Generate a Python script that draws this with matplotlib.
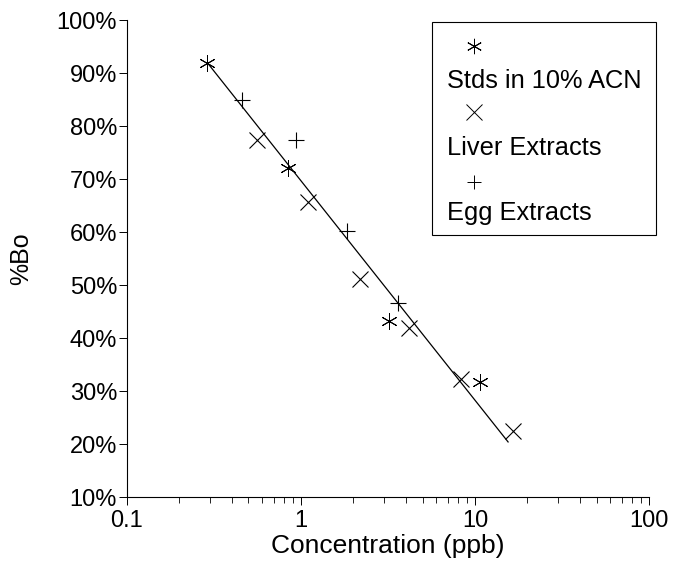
"""Competitive ELISA calibration: %Bo vs concentration for standards and extracts."""

import matplotlib

matplotlib.use("Agg")
import matplotlib.pyplot as plt
from matplotlib.patches import Rectangle
from matplotlib.ticker import FixedLocator, LogLocator, NullFormatter

plt.rcParams["font.family"] = ["Liberation Sans", "DejaVu Sans"]

# values
stds_x = [0.29, 0.84, 3.2, 10.7]
stds_y = [92.0, 72.1, 43.2, 31.8]

liver_x = [0.56, 1.10, 2.18, 4.18, 8.3, 16.5]
liver_y = [77.4, 65.7, 51.2, 41.9, 32.2, 22.4]

egg_x = [0.46, 0.94, 1.84, 3.6]
egg_y = [84.9, 77.4, 60.3, 46.6]

fit_x = [0.29, 15.5]
fit_y = [92.0, 20.4]

y_ticks = [10, 20, 30, 40, 50, 60, 70, 80, 90, 100]
x_ticks = [0.1, 1, 10, 100]
x_tick_labels = ["0.1", "1", "10", "100"]

legend_labels = ["Stds in 10% ACN", "Liver Extracts", "Egg Extracts"]

ASTERISK = (6, 2, 0)

fig = plt.figure(figsize=(6.74, 5.61), dpi=100)
ax = fig.add_axes([0.188, 0.114, 0.775, 0.850])

ax.plot(fit_x, fit_y, color="black", lw=0.9)
ax.plot(stds_x, stds_y, ls="none", marker=ASTERISK, ms=12, mew=0.7, color="black")
ax.plot(liver_x, liver_y, ls="none", marker="x", ms=12, mew=0.8, color="black")
ax.plot(egg_x, egg_y, ls="none", marker="+", ms=12, mew=0.8, color="black")

ax.set_xscale("log")
ax.set_xlim(0.1, 100)
ax.set_ylim(10, 100)
ax.xaxis.set_major_locator(FixedLocator(x_ticks))
ax.set_xticklabels(x_tick_labels)
ax.xaxis.set_minor_locator(LogLocator(base=10, subs=range(2, 10)))
ax.xaxis.set_minor_formatter(NullFormatter())
ax.set_yticks(y_ticks)
ax.set_yticklabels([f"{v}%" for v in y_ticks])

ax.spines["top"].set_visible(False)
ax.spines["right"].set_visible(False)
for side in ("left", "bottom"):
    ax.spines[side].set_linewidth(0.8)

ax.tick_params(axis="both", which="major", direction="out", length=6, width=0.7,
               labelsize=17, color="black")
ax.tick_params(axis="y", which="major", pad=1)
ax.tick_params(axis="x", which="major", pad=3)
ax.tick_params(axis="x", which="minor", direction="out", length=4, width=0.6)

ax.set_xlabel("Concentration (ppb)", fontsize=19, labelpad=2)
ax.set_ylabel("%Bo", fontsize=18, labelpad=17)

# hand-drawn legend box: marker on its own line above each label
box = Rectangle((0.584, 0.549), 0.429, 0.447, transform=ax.transAxes,
                fill=True, facecolor="white", edgecolor="black", lw=0.8,
                clip_on=False, zorder=5)
ax.add_patch(box)
markers = [(ASTERISK, 11), ("x", 11), ("+", 10)]
marker_y = [0.945, 0.808, 0.661]
text_y = [0.873, 0.731, 0.595]
for (m, size), my, ty, label in zip(markers, marker_y, text_y, legend_labels):
    ax.plot([0.665], [my], transform=ax.transAxes, marker=m, ms=size, mew=0.7,
            color="black", ls="none", clip_on=False, zorder=6)
    ax.text(0.613, ty, label, transform=ax.transAxes, fontsize=18.3,
            va="center", ha="left", zorder=6)

fig.savefig("out.png", dpi=100)
